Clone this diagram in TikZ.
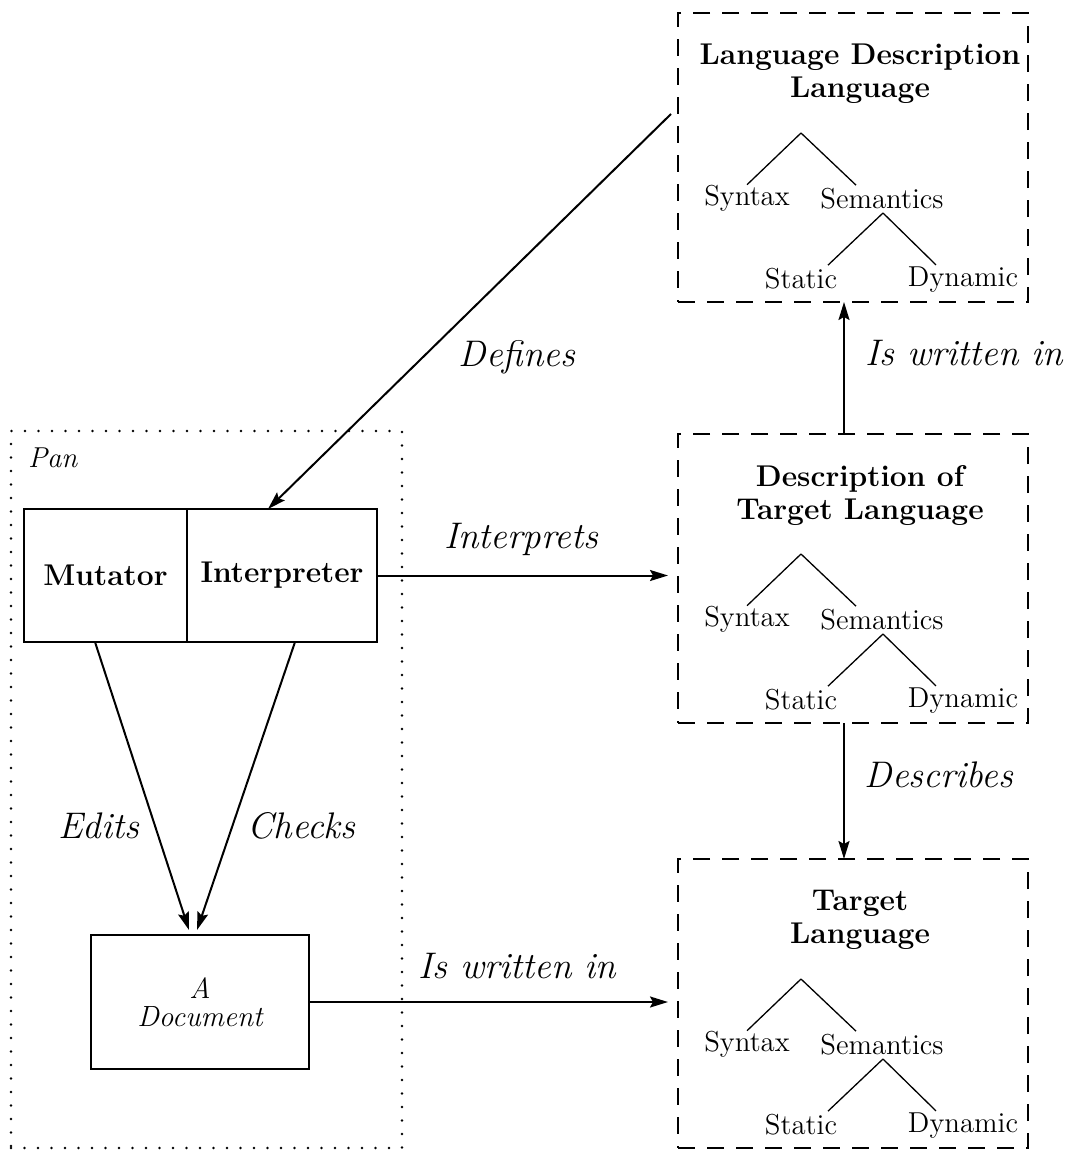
\documentclass[tikz,border=0pt]{standalone}
\usetikzlibrary{arrows.meta,calc}

\tikzset{
  every node/.style={inner sep=0pt, outer sep=0pt},
  basefont/.style={font=\fontsize{14.4}{16.5}\selectfont},
  arr/.style={line width=1pt, -{Stealth[length=9pt,width=5.5pt,inset=1.5pt]}},
  branch/.style={line width=0.65pt},
  langbox/.style={draw, line width=1.1pt, dash pattern=on 8.5pt off 6pt,
    minimum width=175pt, minimum height=144.5pt, anchor=north west},
  panbox/.style={draw, line width=1.4pt, line cap=round,
    dash pattern=on 0pt off 6.75pt, anchor=north west},
  plainbox/.style={draw, line width=1pt},
  boxtitle/.style={font=\fontsize{15}{16.5}\selectfont\bfseries, align=center},
  leaf/.style={anchor=base, font=\fontsize{14.4}{16.5}\selectfont},
  lbl/.style={anchor=base, font=\fontsize{18.5}{22}\selectfont\itshape},
}

% A dashed language box with its title and the syntax/semantics tree
\newcommand\langbox[3]{%
  \node[langbox] (#1) at (678,#2) {};
  \node[boxtitle, anchor=north] (#1-title) at ($(#1.north west)+(182,31)$) {#3};
  \coordinate (#1-top) at ($(#1.north west)+(123,120)$);
  \node[leaf] (#1-syn) at ($(#1.north west)+(69,192)$) {Syntax};
  \node[leaf] (#1-sem) at ($(#1.north west)+(204,195)$) {Semantics};
  \coordinate (#1-semtop) at ($(#1.north west)+(205,200)$);
  \node[leaf] (#1-sta) at ($(#1.north west)+(123,275)$) {Static};
  \node[leaf] (#1-dyn) at ($(#1.north west)+(285,273)$) {Dynamic};
  \draw[branch] (#1-top) -- (#1-syn.north);
  \draw[branch] (#1-top) -- ([xshift=-13pt,yshift=1.3pt]#1-sem.north);
  \draw[branch] (#1-semtop) -- ([xshift=13.5pt,yshift=1.3pt]#1-sta.north);
  \draw[branch] (#1-semtop) -- ([xshift=-13.5pt,yshift=0.7pt]#1-dyn.north);
}

\begin{document}
\begin{tikzpicture}[x=0.5pt, y=-0.5pt, basefont]
  \useasboundingbox (0,0) rectangle (1073,1151);

  % the three language descriptions
  \langbox{L1}{13}{Language Description\\Language}
  \langbox{L2}{434}{Description of\\Target Language}
  \langbox{L3}{859}{Target\\Language}

  % the Pan system
  \node[panbox, minimum width=195.5pt, minimum height=358.5pt] (pan) at (11,431) {};
  \node[anchor=base west, font=\fontsize{14.4}{16.5}\selectfont\itshape] (panname) at (28,467) {Pan};
  \node[plainbox, minimum width=81.5pt, minimum height=66.5pt, font=\fontsize{15}{16.5}\selectfont\bfseries] (mut) at (105.5,575.5) {Mutator};
  \node[plainbox, minimum width=95pt, minimum height=66.5pt, font=\fontsize{15}{16.5}\selectfont\bfseries] (interp) at (282,575.5) {Interpreter};
  \node[plainbox, minimum width=109pt, minimum height=67pt, align=center, font=\fontsize{14.6}{14}\selectfont\itshape] (doc) at (200,1002) {A\\Document};

  % connectors
  \coordinate (defsrc) at ($(L1.north west)+(-7,101)$);
  \draw[arr] (defsrc) -- ([xshift=-7pt]interp.north);
  \draw[arr] (interp.east) -- ($(interp.east -| L2.west)+(-10,0)$);
  \draw[arr] (doc.east) -- ($(doc.east -| L3.west)+(-10,0)$);
  \draw[arr] ([xshift=-5.25pt]mut.south) -- ([xshift=-5.5pt,yshift=2.5pt]doc.north);
  \draw[arr] ([xshift=6.5pt]interp.south) -- ([xshift=-1.5pt,yshift=2.5pt]doc.north);
  \draw[arr] ($(L2.north west)+(166,0)$) -- ($(L1.south west)+(166,0)$);
  \draw[arr] ($(L2.south west)+(166,0)$) -- ($(L3.north west)+(166,0)$);

  % connector labels
  \node[lbl] (lbdefines) at (517,366) {Defines};
  \node[lbl] (lbwritten) at (964.5,365) {Is written in};
  \node[lbl] (lbinterprets) at (521.5,548) {Interprets};
  \node[lbl] (lbdescribes) at (939,787) {Describes};
  \node[lbl] (lbedits) at (98.5,838) {Edits};
  \node[lbl] (lbchecks) at (301.5,838) {Checks};
  \node[lbl] (lbdocwritten) at (517.5,978) {Is written in};
\end{tikzpicture}
\end{document}
